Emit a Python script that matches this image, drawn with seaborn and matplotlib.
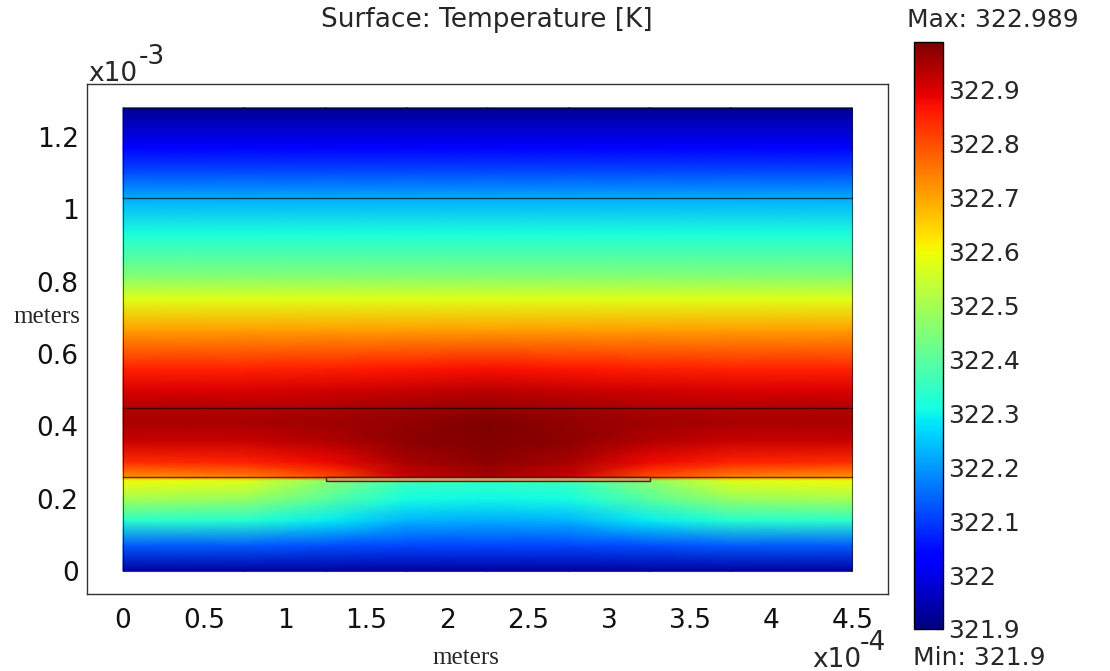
import numpy as np
import pandas as pd
import matplotlib
matplotlib.use("Agg")
import matplotlib.pyplot as plt
from matplotlib.patches import Rectangle
import seaborn as sns

# ---------------- data (x in 1e-4 m, y in 1e-3 m, T in K) ----------------
x_nodes = [0.0, 0.75, 1.25, 1.75, 2.25, 2.75, 3.25, 3.75, 4.5]
y_nodes = [0.0, 0.07, 0.14, 0.20, 0.25, 0.26, 0.30, 0.36, 0.41, 0.45,
           0.50, 0.56, 0.67, 0.75, 0.82, 0.93, 1.03, 1.10, 1.17, 1.28]
T_rows = [
    [321.93, 321.93, 321.93, 321.93, 321.93, 321.93, 321.93, 321.93, 321.93],   # y=0.00
    [322.13, 322.13, 322.12, 322.11, 322.11, 322.11, 322.12, 322.13, 322.13],   # y=0.07
    [322.34, 322.33, 322.29, 322.23, 322.22, 322.23, 322.29, 322.33, 322.34],   # y=0.14
    [322.50, 322.48, 322.40, 322.31, 322.30, 322.31, 322.40, 322.48, 322.50],   # y=0.20
    [322.60, 322.58, 322.47, 322.36, 322.35, 322.36, 322.47, 322.58, 322.60],   # y=0.25
    [322.72, 322.74, 322.80, 322.92, 322.95, 322.92, 322.80, 322.74, 322.72],   # y=0.26
    [322.84, 322.85, 322.88, 322.95, 322.975, 322.95, 322.88, 322.85, 322.84],  # y=0.30
    [322.92, 322.92, 322.94, 322.975, 322.989, 322.975, 322.94, 322.92, 322.92],# y=0.36
    [322.95, 322.95, 322.955, 322.97, 322.985, 322.97, 322.955, 322.95, 322.95],# y=0.41
    [322.94, 322.94, 322.945, 322.955, 322.965, 322.955, 322.945, 322.94, 322.94],# y=0.45
    [322.90, 322.90, 322.91, 322.92, 322.93, 322.92, 322.91, 322.90, 322.90],   # y=0.50
    [322.85, 322.85, 322.855, 322.865, 322.87, 322.865, 322.855, 322.85, 322.85],# y=0.56
    [322.70, 322.70, 322.70, 322.70, 322.70, 322.70, 322.70, 322.70, 322.70],   # y=0.67
    [322.58, 322.58, 322.58, 322.58, 322.58, 322.58, 322.58, 322.58, 322.58],   # y=0.75
    [322.445, 322.445, 322.445, 322.445, 322.445, 322.445, 322.445, 322.445, 322.445],  # y=0.82
    [322.32, 322.32, 322.32, 322.32, 322.32, 322.32, 322.32, 322.32, 322.32],   # y=0.93
    [322.22, 322.22, 322.22, 322.22, 322.22, 322.22, 322.22, 322.22, 322.22],   # y=1.03
    [322.12, 322.12, 322.12, 322.12, 322.12, 322.12, 322.12, 322.12, 322.12],   # y=1.10
    [322.03, 322.03, 322.03, 322.03, 322.03, 322.03, 322.03, 322.03, 322.03],   # y=1.17
    [321.92, 321.92, 321.92, 321.92, 321.92, 321.92, 321.92, 321.92, 321.92],   # y=1.28
]
T_min, T_max = 321.9, 322.989
domain_x = [0.0, 4.5]
domain_y = [0.0, 1.28]
interface_y = [0.26, 0.45, 1.03]
heater_x = [1.25, 3.25]
heater_y = [0.25, 0.26]
x_ticks = [0, 0.5, 1, 1.5, 2, 2.5, 3, 3.5, 4, 4.5]
x_ticklabels = ["0", "0.5", "1", "1.5", "2", "2.5", "3", "3.5", "4", "4.5"]
y_ticks = [0, 0.2, 0.4, 0.6, 0.8, 1.0, 1.2]
y_ticklabels = ["0", "0.2", "0.4", "0.6", "0.8", "1", "1.2"]
cbar_ticks = [321.9, 322.0, 322.1, 322.2, 322.3, 322.4, 322.5, 322.6, 322.7, 322.8, 322.9]
cbar_ticklabels = ["321.9", "322", "322.1", "322.2", "322.3", "322.4",
                   "322.5", "322.6", "322.7", "322.8", "322.9"]

# ---------------- style ----------------
sns.set_theme(style="white")
plt.rcParams["font.family"] = ["DejaVu Sans"]
FS = 19
FS_CB = 18
W, H = 1110, 671

fig = plt.figure(figsize=(W / 100, H / 100), dpi=100)
fig.patch.set_facecolor("white")
ax = fig.add_axes([87 / W, 1 - 594 / H, (888 - 87) / W, (594 - 84) / H])
cax = fig.add_axes([914 / W, 1 - 629 / H, 29 / W, (629 - 42) / H])

T = np.array(T_rows)
mesh = ax.pcolormesh(x_nodes, y_nodes, T, shading="gouraud", cmap="jet",
                     vmin=T_min, vmax=T_max, zorder=1, antialiased=False)

# interface lines drawn with seaborn
lines_df = pd.DataFrame({
    "x": [v for _ in interface_y for v in domain_x],
    "y": [yy for yy in interface_y for _ in domain_x],
    "id": [i for i in range(len(interface_y)) for _ in domain_x],
})
sns.lineplot(data=lines_df, x="x", y="y", units="id", estimator=None,
             color="black", lw=1.0, alpha=0.65, ax=ax, legend=False, zorder=3)

ax.add_patch(Rectangle((domain_x[0], domain_y[0]), domain_x[1] - domain_x[0],
                       domain_y[1] - domain_y[0], fill=False, ec="black",
                       lw=0.8, alpha=0.6, zorder=3))
ax.add_patch(Rectangle((heater_x[0], heater_y[0]), heater_x[1] - heater_x[0],
                       heater_y[1] - heater_y[0], fc="#d8a060", ec="#3a2a1a",
                       lw=1.0, zorder=4))

ax.set_xlim(-0.222, 4.72)
ax.set_ylim(-0.0636, 1.346)
ax.set_xticks(x_ticks, labels=x_ticklabels)
ax.set_yticks(y_ticks, labels=y_ticklabels)
ax.tick_params(axis="both", length=0, labelsize=FS, colors="#111111")
ax.tick_params(axis="x", pad=10)
ax.tick_params(axis="y", pad=6)
ax.set_xlabel("")
ax.set_ylabel("")
for s in ax.spines.values():
    s.set_visible(True)
    s.set_color("#333333")
    s.set_linewidth(1.0)

cb = fig.colorbar(mesh, cax=cax)
cb.set_ticks(cbar_ticks, labels=cbar_ticklabels)
cax.tick_params(axis="y", direction="in", length=5, width=0.8, color="#222222",
                left=True, right=True, labelleft=False, labelright=True,
                labelsize=FS_CB, pad=4)
cb.outline.set_edgecolor("black")
cb.outline.set_linewidth(1.0)

# texts
fig.text(487 / W, 1 - 20 / H, "Surface: Temperature [K]", ha="center", va="center", fontsize=FS)
fig.text(907 / W, 1 - 20 / H, "Max: 322.989", ha="left", va="center", fontsize=FS_CB)
fig.text(913 / W, 1 - 658 / H, "Min: 321.9", ha="left", va="center", fontsize=FS_CB)
fig.text(88 / W, 1 - 74 / H, "x10", ha="left", va="center", fontsize=FS)
fig.text(139 / W, 1 - 57 / H, "-3", ha="left", va="center", fontsize=FS)
fig.text(861 / W, 1 - 660 / H, "x10", ha="right", va="center", fontsize=FS)
fig.text(860 / W, 1 - 643 / H, "-4", ha="left", va="center", fontsize=FS)
fig.text(466 / W, 1 - 658 / H, "meters", ha="center", va="center", fontsize=18,
         family="Liberation Serif")
fig.text(80 / W, 1 - 317 / H, "meters", ha="right", va="center", fontsize=18,
         family="Liberation Serif")

fig.savefig("out.png", dpi=100, facecolor="white")
